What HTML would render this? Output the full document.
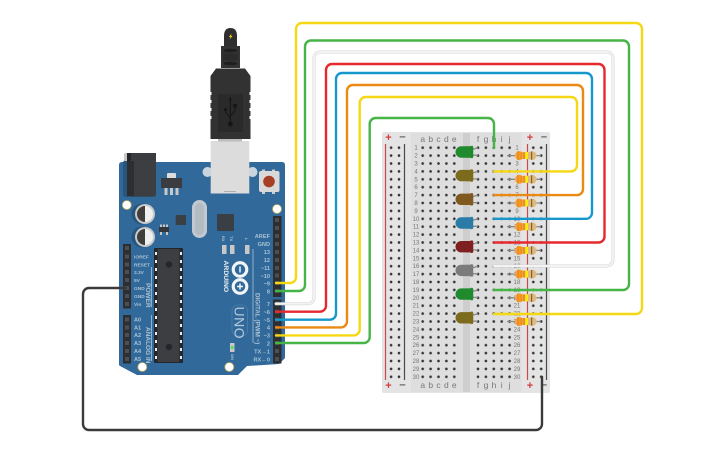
<!DOCTYPE html>
<html><head><meta charset="utf-8"><style>
html,body{margin:0;padding:0;background:#fff;width:725px;height:453px;overflow:hidden}
svg{display:block}
text{font-family:"Liberation Sans",sans-serif}
.l{font-size:5.6px;font-weight:bold;fill:#aac2d4}
.r{font-size:6px;fill:#777;text-anchor:middle}
.c{font-size:8.5px;fill:#777;text-anchor:middle}
.w{fill:none;stroke-width:2.4;stroke-linecap:round}
.lead{stroke:#8a8a8a;stroke-width:1.3;fill:none}
</style></head><body>
<svg width="725" height="453" viewBox="0 0 725 453" xmlns="http://www.w3.org/2000/svg">
<defs>
<pattern id="h" patternUnits="userSpaceOnUse" x="418.75" y="143.75" width="7.9" height="7.9"><circle cx="3.95" cy="3.95" r="1.3" fill="#333"/></pattern>
<g id="res">
<path d="M507 0H515M536 0H541" class="lead"/>
<rect x="515" y="-4.500" width="9" height="9" rx="4.500" fill="#f2a63f"/>
<rect x="520" y="-3.400" width="11" height="6.800" fill="#e2b572"/>
<rect x="527.500" y="-4.500" width="9" height="9" rx="4.500" fill="#dfba80"/>
<rect x="517" y="-4.300" width="2.400" height="8.600" fill="#f28c1b"/>
<rect x="520.200" y="-3.400" width="2.200" height="6.800" fill="#f28c1b"/>
<rect x="523" y="-3.400" width="2" height="6.800" fill="#f28c1b"/>
<rect x="525.300" y="-3.600" width="2.800" height="7.200" fill="#f5ec12"/>
<rect x="531" y="-4" width="1.200" height="8" fill="#86612c"/>
</g>
<g id="ledl">
<path d="M471 -2L478 -4M472 3.500H478" class="lead"/>
</g>
<g id="led">
<rect x="455.500" y="-5.700" width="17.500" height="11.400" rx="5.700"/>
<rect x="466" y="-5.700" width="7" height="11.400" rx="1.500"/>
<rect x="470" y="-6.300" width="3.300" height="12.600" rx="1.500" fill-opacity="0.900"/>
</g>
</defs>

<!-- Arduino -->
<path d="M119 165Q119 162 122 162H282Q285 162 285 165V358L279 364L247 366L238 375H137L120 366L119 365Z" fill="#31699a"/>
<!-- power jack -->
<rect x="123" y="160" width="32" height="37" rx="3" fill="#27557c"/>
<rect x="124" y="153" width="32" height="8" rx="1.500" fill="#c8c8c8"/>
<rect x="127" y="153" width="29" height="8" fill="#3a3c3f"/>
<rect x="127" y="153" width="4" height="43" fill="#242628"/>
<rect x="130" y="160" width="26" height="36.500" rx="2" fill="#3c3e41"/>
<rect x="127" y="161" width="7" height="35" fill="#2c2e30"/>
<!-- regulator -->
<rect x="167" y="173" width="9" height="6" rx="1" fill="#dcdcdc"/>
<rect x="161" y="178" width="21" height="10" fill="#3a3c3f"/>
<path d="M164.500 188h3v7h-3zM170 188h3v7h-3zM175.500 188h3v7h-3z" fill="#c8c8c8"/>
<!-- reset button -->
<rect x="262" y="169.500" width="3" height="3" fill="#ccc"/><rect x="272" y="169.500" width="3" height="3" fill="#ccc"/>
<rect x="262" y="191" width="3" height="3" fill="#ccc"/><rect x="272" y="191" width="3" height="3" fill="#ccc"/>
<rect x="259" y="171" width="20.500" height="21" rx="2" fill="#d9d9d9"/>
<circle cx="269" cy="181.500" r="5.800" fill="#a73f27"/>
<!-- holes -->
<g fill="#fff" stroke="#b8a860" stroke-width="0.800">
<circle cx="126.800" cy="205" r="4.500"/><circle cx="277" cy="209" r="4.500"/><circle cx="142.300" cy="367" r="4.500"/><circle cx="229.300" cy="367" r="4.500"/>
</g>
<!-- caps -->
<circle cx="142" cy="214" r="10.500" fill="#27557c"/><circle cx="142" cy="237" r="10.500" fill="#27557c"/>
<circle cx="145" cy="214" r="10" fill="#c9c9c9"/><circle cx="145" cy="237" r="10" fill="#c9c9c9"/>
<path d="M145 206A8 8 0 0 0 145 222Z" fill="#403e3d"/><path d="M145 229A8 8 0 0 0 145 245Z" fill="#403e3d"/>
<path d="M145 206A8 8 0 0 1 145 222Z" fill="#f0f0f0"/><path d="M145 229A8 8 0 0 1 145 245Z" fill="#f0f0f0"/>
<!-- small parts -->
<rect x="175.700" y="215" width="10.300" height="10" rx="0.500" fill="#3a3f45"/>
<path d="M160 224.500h2v2.500h-2zM163 224.500h2v2.500h-2zM166 224.500h2v2.500h-2zM160 232h2v3h-2zM166 232h2v3h-2z" fill="#c5c5c5"/>
<rect x="159" y="227" width="10" height="5" fill="#33363a"/>
<rect x="192" y="200" width="15" height="38" rx="7.500" fill="#c3c9ce"/>
<rect x="195" y="203" width="9" height="32" rx="4.500" fill="#b3bcc3"/>
<rect x="217" y="214" width="17" height="17" rx="1" fill="#3a3f45"/>
<!-- main chip -->
<rect x="154" y="248" width="29" height="115" rx="1" fill="#23262a"/>
<rect x="157.500" y="249" width="22" height="113" fill="#3c3e42"/>
<path d="M155 252h2v3h-2zM155 260h2v3h-2zM155 268h2v3h-2zM155 276h2v3h-2zM155 284h2v3h-2zM155 292h2v3h-2zM155 300h2v3h-2zM155 308h2v3h-2zM155 316h2v3h-2zM155 324h2v3h-2zM155 332h2v3h-2zM155 340h2v3h-2zM155 348h2v3h-2zM155 356h2v3h-2zM180 252h2v3h-2zM180 260h2v3h-2zM180 268h2v3h-2zM180 276h2v3h-2zM180 284h2v3h-2zM180 292h2v3h-2zM180 300h2v3h-2zM180 308h2v3h-2zM180 316h2v3h-2zM180 324h2v3h-2zM180 332h2v3h-2zM180 340h2v3h-2zM180 348h2v3h-2zM180 356h2v3h-2z" fill="#ececec"/>
<circle cx="169" cy="264.500" r="3.200" fill="#23262a"/><circle cx="169" cy="347" r="3.200" fill="#23262a"/>
<!-- headers -->
<g fill="#2c2e31">
<rect x="273" y="216" width="8.500" height="81"/><rect x="273" y="299.500" width="8.500" height="64"/>
<rect x="123" y="244" width="8" height="64.500"/><rect x="123" y="315" width="8" height="48.500"/>
</g>
<g fill="#4c4e51">
<path d="M275 218h4v4h-4zM275 226h4v4h-4zM275 234h4v4h-4zM275 242h4v4h-4zM275 250h4v4h-4zM275 258h4v4h-4zM275 266h4v4h-4zM275 273.500h4v4h-4zM275 281h4v4h-4zM275 289h4v4h-4zM275 301.700h4v4h-4zM275 309.700h4v4h-4zM275 317.700h4v4h-4zM275 325.500h4v4h-4zM275 333.400h4v4h-4zM275 341h4v4h-4zM275 349h4v4h-4zM275 357h4v4h-4z"/>
<path d="M125 246h4v4h-4zM125 254.500h4v4h-4zM125 262.500h4v4h-4zM125 270h4v4h-4zM125 278h4v4h-4zM125 286h4v4h-4zM125 294h4v4h-4zM125 302h4v4h-4zM125 317.500h4v4h-4zM125 325.500h4v4h-4zM125 333h4v4h-4zM125 341h4v4h-4zM125 349h4v4h-4zM125 357h4v4h-4z"/>
</g>
<!-- board labels right -->
<g class="l" text-anchor="end">
<text x="270" y="238">AREF</text><text x="270" y="246">GND</text><text x="270" y="254">13</text><text x="270" y="262">12</text><text x="270" y="270">~11</text><text x="270" y="278">~10</text><text x="270" y="285.500">~9</text><text x="270" y="293.500">8</text><text x="270" y="306">7</text><text x="270" y="314">~6</text><text x="270" y="322">~5</text><text x="270" y="329.500">4</text><text x="270" y="337.500">~3</text><text x="270" y="345.500">2</text><text x="270" y="353.500">TX→1</text><text x="270" y="361.500">RX←0</text>
</g>
<g class="l">
<text x="134" y="258.500" style="font-size:4.800px">IOREF</text><text x="134" y="266.500" style="font-size:4.800px">RESET</text><text x="134" y="274" style="font-size:4.800px">3.3V</text><text x="134" y="282" style="font-size:4.800px">5V</text><text x="134" y="290" style="font-size:4.800px">GND</text><text x="134" y="298" style="font-size:4.800px">GND</text><text x="134" y="306" style="font-size:4.800px">Vin</text>
<text x="134" y="321.500">A0</text><text x="134" y="329.500">A1</text><text x="134" y="337">A2</text><text x="134" y="345">A3</text><text x="134" y="353">A4</text><text x="134" y="361">A5</text>
</g>
<path d="M151.500 267V307M151.500 315V361M253 249V343" stroke="#a9c2d6" stroke-width="0.800" fill="none"/>
<text transform="translate(146,283) rotate(90)" class="l" style="font-size:6.500px">POWER</text>
<text transform="translate(146,327) rotate(90)" class="l" style="font-size:6.500px">ANALOG IN</text>
<text transform="translate(255.500,293) rotate(90)" class="l" style="font-size:6.300px">DIGITAL (PWM ~)</text>
<text transform="translate(224,260.500) rotate(90)" class="l" style="font-size:6.800px;fill:#e8eef3">ARDUINO</text>
<text transform="translate(222,236) rotate(90)" class="l" style="font-size:4px">RX</text>
<text transform="translate(230,236) rotate(90)" class="l" style="font-size:4px">TX</text>
<text transform="translate(245,238) rotate(90)" class="l" style="font-size:4px">L</text>
<rect x="222" y="245" width="4.500" height="9" fill="#c8c8c8"/><rect x="230" y="245" width="4.500" height="9" fill="#c8c8c8"/><rect x="245" y="245" width="4.500" height="9" fill="#c8c8c8"/>
<rect x="230" y="343" width="4.500" height="9" fill="#c8c8c8"/><rect x="231" y="346" width="2.500" height="3" fill="#54e04c"/>
<text transform="translate(231,354) rotate(90)" class="l" style="font-size:4px">ON</text>
<!-- logo -->
<g fill="none" stroke="#f2f5f7" stroke-width="3.100"><circle cx="240" cy="269.500" r="6.800"/><circle cx="240" cy="286.500" r="6.800"/></g>
<path d="M240 266.500V272.500M237 286.500H243M240 283.500V289.500" stroke="#f2f5f7" stroke-width="1.500"/>
<rect x="232" y="305" width="15.500" height="31" rx="6" fill="none" stroke="#4a80ab" stroke-width="0.800"/>
<text transform="translate(234.500,306.500) rotate(90)" style="font-size:14px;fill:#b4cadb;letter-spacing:0.500px">UNO</text>

<!-- USB -->
<circle cx="207.500" cy="172" r="5" fill="#c9d5de"/><circle cx="252.500" cy="172" r="5" fill="#c9d5de"/>
<rect x="210.700" y="141" width="38.600" height="52.500" fill="#dcdcdc"/>
<rect x="224" y="191" width="12" height="0.900" fill="#aaa"/>
<rect x="218" y="138" width="24" height="3.500" fill="#bdbdbd"/>
<path d="M224 46V36Q224 28 230.500 28Q237 28 237 36V46Z" fill="#2f2f2f"/>
<path d="M231.500 33.500L229 37H230.500L229.500 39.500L232.500 36H231Z" fill="#f4d21f"/>
<rect x="221" y="46" width="19" height="22" fill="#333"/>
<ellipse cx="230.500" cy="50.500" rx="7" ry="1.800" fill="#1f1f1f"/><ellipse cx="230.500" cy="63.500" rx="7" ry="1.800" fill="#1f1f1f"/>
<rect x="223" y="53.500" width="15" height="7" fill="#2b2b2b"/>
<path d="M216 68.500H245L250.500 76V139H210.500V76Z" fill="#323232"/>
<rect x="218" y="94" width="25" height="38" fill="#2a2a2a"/>
<path d="M210 92h1.500v3H210zM210 100h1.500v3H210zM210 108h1.500v3H210zM210 116h1.500v3H210zM249.500 92h1.500v3h-1.500zM249.500 100h1.500v3h-1.500zM249.500 108h1.500v3h-1.500zM249.500 116h1.500v3h-1.500z" fill="#fff"/>
<path d="M230.300 98V123M230.300 118L225.500 112V110M230.300 116L235 111V107" stroke="#151515" stroke-width="1" fill="none"/>
<circle cx="230.300" cy="124" r="2.500" fill="#151515"/><circle cx="225.500" cy="109.500" r="1.500" fill="#151515"/><rect x="233.300" y="104" width="3.500" height="3.500" fill="#151515"/><path d="M230.300 97L228.800 100H231.800Z" fill="#151515"/>

<!-- Breadboard -->
<rect x="382" y="132" width="168" height="261" rx="2" fill="#e4e4e4"/>
<rect x="411" y="133" width="110.500" height="259" fill="#dedede"/>
<rect x="463" y="133" width="7" height="259" fill="#cecece"/>
<path d="M385.500 144V380M527.500 144V380" stroke="#cc4848" stroke-width="1.200" fill="none"/>
<path d="M404.500 144V380M546.500 144V380" stroke="#4a4a4a" stroke-width="1.200" fill="none"/>
<rect x="387.050" y="143.750" width="15.800" height="237" fill="url(#h)"/>
<rect x="418.750" y="143.750" width="39.500" height="237" fill="url(#h)"/>
<rect x="474.050" y="143.750" width="39.500" height="237" fill="url(#h)"/>
<rect x="529.350" y="143.750" width="15.800" height="237" fill="url(#h)"/>
<g style="font-size:11px;font-weight:bold" text-anchor="middle">
<text x="388.500" y="141" fill="#d23c3c">+</text><text x="402.500" y="140.500" fill="#666">−</text><text x="530" y="141" fill="#d23c3c">+</text><text x="544" y="140.500" fill="#666">−</text>
<text x="388.500" y="389" fill="#d23c3c">+</text><text x="402.500" y="388.500" fill="#666">−</text><text x="530" y="389" fill="#d23c3c">+</text><text x="544" y="388.500" fill="#666">−</text>
</g>
<g class="c">
<text x="422.700" y="142">a</text><text x="430.700" y="142">b</text><text x="438.500" y="142">c</text><text x="446.400" y="142">d</text><text x="454.300" y="142">e</text><text x="478" y="142">f</text><text x="486" y="142">g</text><text x="494" y="142">h</text><text x="501.700" y="142">i</text><text x="509.600" y="142">j</text>
<text x="422.700" y="388">a</text><text x="430.700" y="388">b</text><text x="438.500" y="388">c</text><text x="446.400" y="388">d</text><text x="454.300" y="388">e</text><text x="478" y="388">f</text><text x="486" y="388">g</text><text x="494" y="388">h</text><text x="501.700" y="388">i</text><text x="509.600" y="388">j</text>
</g>
<g class="r">
<text x="416" y="149.700">1</text><text x="416" y="157.600">2</text><text x="416" y="165.500">3</text><text x="416" y="173.400">4</text><text x="416" y="181.300">5</text><text x="416" y="189.200">6</text><text x="416" y="197.100">7</text><text x="416" y="205">8</text><text x="416" y="212.900">9</text><text x="416" y="220.800">10</text><text x="416" y="228.700">11</text><text x="416" y="236.600">12</text><text x="416" y="244.500">13</text><text x="416" y="252.400">14</text><text x="416" y="260.300">15</text><text x="416" y="268.200">16</text><text x="416" y="276.100">17</text><text x="416" y="284">18</text><text x="416" y="291.900">19</text><text x="416" y="299.800">20</text><text x="416" y="307.700">21</text><text x="416" y="315.600">22</text><text x="416" y="323.500">23</text><text x="416" y="331.400">24</text><text x="416" y="339.300">25</text><text x="416" y="347.200">26</text><text x="416" y="355.100">27</text><text x="416" y="363">28</text><text x="416" y="370.900">29</text><text x="416" y="378.800">30</text>
<text x="517" y="149.700">1</text><text x="517" y="157.600">2</text><text x="517" y="165.500">3</text><text x="517" y="173.400">4</text><text x="517" y="181.300">5</text><text x="517" y="189.200">6</text><text x="517" y="197.100">7</text><text x="517" y="205">8</text><text x="517" y="212.900">9</text><text x="517" y="220.800">10</text><text x="517" y="228.700">11</text><text x="517" y="236.600">12</text><text x="517" y="244.500">13</text><text x="517" y="252.400">14</text><text x="517" y="260.300">15</text><text x="517" y="268.200">16</text><text x="517" y="276.100">17</text><text x="517" y="284">18</text><text x="517" y="291.900">19</text><text x="517" y="299.800">20</text><text x="517" y="307.700">21</text><text x="517" y="315.600">22</text><text x="517" y="323.500">23</text><text x="517" y="331.400">24</text><text x="517" y="339.300">25</text><text x="517" y="347.200">26</text><text x="517" y="355.100">27</text><text x="517" y="363">28</text><text x="517" y="370.900">29</text><text x="517" y="378.800">30</text>
</g>

<!-- LEDs -->
<use href="#ledl" y="151.700"/><use href="#ledl" y="175.400"/><use href="#ledl" y="199.100"/><use href="#ledl" y="222.800"/><use href="#ledl" y="246.500"/><use href="#ledl" y="270.200"/><use href="#ledl" y="293.900"/><use href="#ledl" y="317.600"/>
<use href="#led" y="152" fill="#1f8a2e"/>
<use href="#led" y="175.600" fill="#7d6b1d"/>
<use href="#led" y="199.300" fill="#80591f"/>
<use href="#led" y="223" fill="#2a7ca6"/>
<use href="#led" y="246.700" fill="#7f1f20"/>
<use href="#led" y="270.400" fill="#7b7b7b"/>
<use href="#led" y="294.100" fill="#1f8a2e"/>
<use href="#led" y="317.800" fill="#7d6b1d"/>

<!-- Resistors -->
<use href="#res" y="155.600"/><use href="#res" y="179.300"/><use href="#res" y="203"/><use href="#res" y="226.700"/><use href="#res" y="250.400"/><use href="#res" y="274.100"/><use href="#res" y="297.800"/><use href="#res" y="321.500"/>

<!-- Wires -->
<path class="w" stroke="#3a3a3a" d="M126 288H89a6 6 0 0 0-6 6V424a6 6 0 0 0 6 6H536a6 6 0 0 0 6-6V377"/>
<path class="w" stroke="#f6d713" d="M276 283H290a6 6 0 0 0 6-6V29a6 6 0 0 1 6-6H636a6 6 0 0 1 6 6V308a6 6 0 0 1-6 6H494"/>
<path class="w" stroke="#46b446" d="M276 291H299a6 6 0 0 0 6-6V46.500a6 6 0 0 1 6-6H623a6 6 0 0 1 6 6V284a6 6 0 0 1-6 6H494"/>
<path class="w" stroke="#d4d4d4" style="stroke-width:3" d="M276 303.700H308a6 6 0 0 0 6-6V58a6 6 0 0 1 6-6H607a6 6 0 0 1 6 6V260a6 6 0 0 1-6 6H494"/>
<path class="w" stroke="#f3f3f3" style="stroke-width:1.900" d="M276 303.700H308a6 6 0 0 0 6-6V58a6 6 0 0 1 6-6H607a6 6 0 0 1 6 6V260a6 6 0 0 1-6 6H494"/>
<path class="w" stroke="#e6292f" d="M276 311.700H320a6 6 0 0 0 6-6V70a6 6 0 0 1 6-6H598.500a6 6 0 0 1 6 6V236.500a6 6 0 0 1-6 6H494"/>
<path class="w" stroke="#1798cd" d="M276 319.700H330a6 6 0 0 0 6-6V79a6 6 0 0 1 6-6H586a6 6 0 0 1 6 6V212.800a6 6 0 0 1-6 6H494"/>
<path class="w" stroke="#ea8a13" d="M276 327.400H341a6 6 0 0 0 6-6V91a6 6 0 0 1 6-6H577a6 6 0 0 1 6 6V189.100a6 6 0 0 1-6 6H494"/>
<path class="w" stroke="#f6d713" d="M276 335.400H353.700a6 6 0 0 0 6-6V103a6 6 0 0 1 6-6H571a6 6 0 0 1 6 6V165.400a6 6 0 0 1-6 6H494"/>
<path class="w" stroke="#46b446" d="M276 343H363.700a6 6 0 0 0 6-6V124a6 6 0 0 1 6-6H488a6 6 0 0 1 6 6V147.700"/>
</svg>
</body></html>
